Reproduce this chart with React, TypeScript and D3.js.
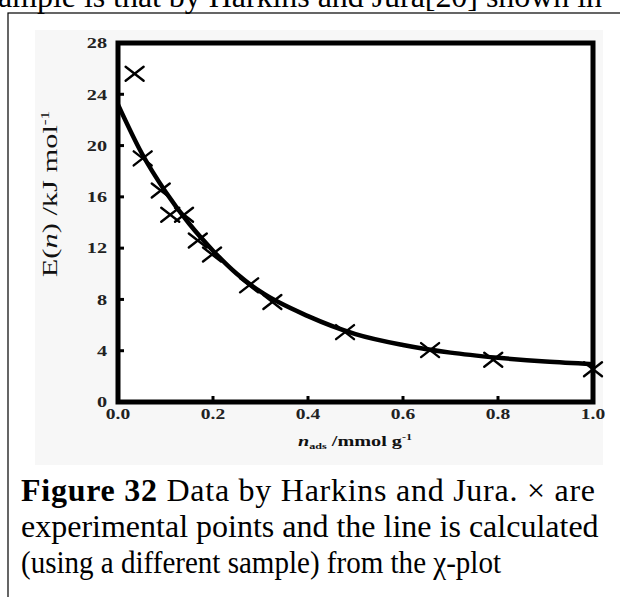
import React from "react";
import * as d3 from "d3";

// Experimental points (×)
const pointsX = [0.035, 0.052, 0.09, 0.11, 0.139, 0.168, 0.198, 0.276, 0.325, 0.478, 0.657, 0.79, 1.0];
const pointsY = [25.6, 19.0, 16.5, 14.6, 14.6, 12.6, 11.5, 9.1, 7.8, 5.45, 4.05, 3.3, 2.55];

// Calculated line
const curveX = [0, 0.05, 0.1, 0.15, 0.2, 0.25, 0.3, 0.4, 0.5, 0.6, 0.7, 0.8, 0.9, 1.0];
const curveY = [23.2, 19.4, 16.4, 13.9, 11.8, 10.0, 8.6, 6.7, 5.3, 4.45, 3.85, 3.45, 3.15, 2.95];

const xTicks = [0, 0.2, 0.4, 0.6, 0.8, 1.0];
const yTicks = [0, 4, 8, 12, 16, 20, 24, 28];

const topText = "ample is that by Harkins and Jura[20] shown in";
const captionBold = "Figure 32";
const captionLines = [
  " Data by Harkins and Jura.  \u00D7 are",
  "experimental points and the line is calculated",
  "(using a different sample) from the \u03C7-plot",
];

const SERIF = '"Liberation Serif", "Times New Roman", serif';

export default function App() {
  const W = 620;
  const H = 597;
  const left = 118, right = 593, top = 43, bottom = 402;
  const x = d3.scaleLinear().domain([0, 1]).range([left, right]);
  const y = d3.scaleLinear().domain([0, 28]).range([bottom, top]);

  const line = d3
    .line<number>()
    .x((_, i) => x(curveX[i]))
    .y((d) => y(d))
    .curve(d3.curveMonotoneX);

  const mw = 9, mh = 7;

  return (
    <svg
      width={W}
      height={H}
      style={{ position: "absolute", left: 0, top: 0, background: "#fff" }}
      fontFamily={SERIF}
    >
      {/* top cut-off text */}
      <text x={-2} y={7} fontSize={32} fill="#000" textLength={604} lengthAdjust="spacing">{topText}</text>
      {/* outer box */}
      <rect x={8} y={13} width={700} height={700} fill="none" stroke="#000" strokeWidth={1.2} />
      {/* image background */}
      <rect x={35} y={30} width={568} height={435} fill="#f7f7f7" />
      <rect x={left} y={top} width={right - left} height={bottom - top} fill="#fff" />

      {/* ticks */}
      {yTicks.map((t) => (
        <line key={"yt" + t} x1={left} x2={left + 6} y1={y(t)} y2={y(t)} stroke="#000" strokeWidth={3} />
      ))}
      {xTicks.map((t) => (
        <line key={"xt" + t} x1={x(t)} x2={x(t)} y1={bottom} y2={bottom - 6} stroke="#000" strokeWidth={3} />
      ))}

      {/* curve */}
      <path d={line(curveY) || ""} fill="none" stroke="#000" strokeWidth={4.5} strokeLinejoin="round" />

      {/* markers */}
      {pointsX.map((px, i) => {
        const cx = x(px), cy = y(pointsY[i]);
        return (
          <g key={"m" + i} stroke="#000" strokeWidth={2.4} strokeLinecap="round">
            <line x1={cx - mw} y1={cy - mh} x2={cx + mw} y2={cy + mh} />
            <line x1={cx - mw} y1={cy + mh} x2={cx + mw} y2={cy - mh} />
          </g>
        );
      })}

      {/* frame */}
      <rect x={left} y={top} width={right - left} height={bottom - top} fill="none" stroke="#000" strokeWidth={5} />

      {/* y tick labels */}
      {yTicks.map((t) => (
        <g key={"yl" + t} transform={`translate(107,${y(t)}) scale(1.35,1)`}>
          <text textAnchor="end" dy="0.35em" fontSize={15} fontWeight="bold" fill="#222">{t}</text>
        </g>
      ))}
      {/* x tick labels */}
      {xTicks.map((t) => (
        <g key={"xl" + t} transform={`translate(${x(t)},419) scale(1.3,1)`}>
          <text textAnchor="middle" fontSize={15} fontWeight="bold" fill="#222">{t.toFixed(1)}</text>
        </g>
      ))}

      {/* x axis title */}
      <g transform="translate(355,446) scale(1.35,1)">
        <text textAnchor="middle" fontSize={15} fontWeight="bold" fill="#111">
          <tspan fontStyle="italic">n</tspan>
          <tspan fontSize={9} dy={3}>ads</tspan>
          <tspan dy={-3}> /mmol g</tspan>
          <tspan fontSize={9} dy={-6}>-1</tspan>
        </text>
      </g>

      {/* y axis title */}
      <g transform="translate(57,194) rotate(-90) scale(1.45,1)">
        <text textAnchor="middle" fontSize={21} fill="#111">
          <tspan>E(</tspan>
          <tspan fontStyle="italic">n</tspan>
          <tspan>) /kJ mol</tspan>
          <tspan fontSize={12} dy={-8}>-1</tspan>
        </text>
      </g>

      {/* caption */}
      <text x={21} y={501} fontSize={32} fill="#000" textLength={574} lengthAdjust="spacing">
        <tspan fontWeight="bold">{captionBold}</tspan>
        <tspan>{captionLines[0]}</tspan>
      </text>
      <text x={21} y={537} fontSize={32} fill="#000">{captionLines[1]}</text>
      <text x={21} y={573} fontSize={32} fill="#000" textLength={480} lengthAdjust="spacingAndGlyphs">{captionLines[2]}</text>
    </svg>
  );
}
